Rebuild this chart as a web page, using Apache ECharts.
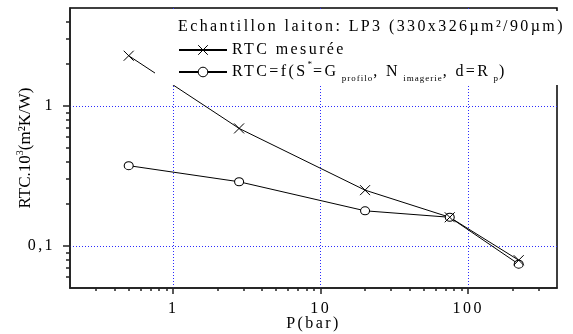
<!DOCTYPE html>
<html>
<head>
<meta charset="utf-8">
<script src="https://cdn.jsdelivr.net/npm/echarts@6/dist/echarts.min.js"></script>
<style>
  html, body { margin: 0; padding: 0; background: #fff; }
  #chart { width: 573px; height: 334px; }
</style>
</head>
<body>
<div id="chart"></div>
<script>
// Pressure (bar) and contact thermal resistance RTC.10^3 (m²K/W)
const pressure = [0.5, 2.8, 20, 75, 220];
const rtcMeasured = [2.28, 0.69, 0.25, 0.16, 0.079];
const rtcModel = [0.374, 0.287, 0.178, 0.16, 0.074];

// Axis ticks
const xMajorTicks = [1, 10, 100];
const xTickLabels = ['1', '10', '100'];
const xMinorTicks = [0.3, 0.4, 0.5, 0.6, 0.7, 0.8, 0.9, 2, 3, 4, 5, 6, 7, 8, 9,
                     20, 30, 40, 50, 60, 70, 80, 90, 200, 300];
const yMajorTicks = [0.1, 1];
const yTickLabels = ['0,1', '1'];
const yMinorTicks = [0.06, 0.07, 0.08, 0.09, 0.2, 0.3, 0.4, 0.5, 0.6, 0.7, 0.8, 0.9, 2, 3, 4];

// Legend texts
const titleText = 'Echantillon laiton: LP3 (330x326µm²/90µm)';
const nameMeasured = 'RTC mesurée';
const nameModel = 'RTC=f(S*=G profilo, N imagerie, d=R p)';
const legendRich = {};
legendRich[nameMeasured] = 'RTC mesurée';
legendRich[nameModel] = 'RTC=f(S{sup|*}=G{sub| profilo}, N{sub| imagerie}, d=R{sub| p})';

const SERIF = "'Liberation Serif', 'Times New Roman', serif";

// Spaced lettering for the serif labels; the y-axis title (17px / 10px) keeps normal spacing
function spacingFor(font) {
  if (/\b(17|10)px/.test(font)) return '0px';
  if (/\b9px/.test(font)) return '1px';
  return '2.4px';
}
const measureCtx = document.createElement('canvas').getContext('2d');
echarts.setPlatformAPI({
  measureText(text, font) {
    measureCtx.font = font;
    measureCtx.letterSpacing = spacingFor(font);
    return measureCtx.measureText(text);
  }
});
const baseFillText = CanvasRenderingContext2D.prototype.fillText;
CanvasRenderingContext2D.prototype.fillText = function (text, x, y, maxWidth) {
  this.letterSpacing = spacingFor(this.font);
  return maxWidth === undefined
    ? baseFillText.call(this, text, x, y)
    : baseFillText.call(this, text, x, y, maxWidth);
};

function labelFor(values, labels) {
  return function (v) {
    const i = values.findIndex(t => Math.abs(t - v) / t < 1e-6);
    return i < 0 ? '' : labels[i];
  };
}

const chart = echarts.init(document.getElementById('chart'), null, { renderer: 'canvas' });

const axisLine = { show: true, lineStyle: { color: '#222', width: 1.5 } };
const gridLine = { show: true, lineStyle: { color: '#2b2bff', type: [1, 2], width: 1 } };
const tickFont = { fontFamily: SERIF, fontSize: 16, color: '#000' };

chart.setOption({
  animation: false,
  backgroundColor: '#fff',
  grid: {
    left: 70, right: 16, top: 8, bottom: 46,
    outerBoundsMode: 'none', containLabel: false,
    show: true, borderColor: '#000', borderWidth: 1.5, backgroundColor: 'transparent'
  },
  xAxis: [
    {
      type: 'log', logBase: 10, min: 0.2, max: 400, position: 'bottom',
      axisLine: axisLine,
      axisTick: { show: true, customValues: xMajorTicks, length: 6, lineStyle: { color: '#222', width: 1.5 } },
      axisLabel: { customValues: xMajorTicks, formatter: labelFor(xMajorTicks, xTickLabels), margin: 12, ...tickFont },
      splitLine: gridLine,
      minorTick: { show: false },
      name: 'P(bar)', nameLocation: 'middle', nameGap: 27, nameMoveOverlap: false,
      nameTextStyle: { fontFamily: SERIF, fontSize: 16, color: '#000' }
    },
    {
      type: 'log', logBase: 10, min: 0.2, max: 400, position: 'bottom',
      axisLine: { show: false },
      axisTick: { show: true, customValues: xMinorTicks, length: 3, lineStyle: { color: '#222', width: 1.5 } },
      axisLabel: { show: false },
      splitLine: { show: false }
    }
  ],
  yAxis: [
    {
      type: 'log', logBase: 10, min: 0.05, max: 5, position: 'left',
      axisLine: axisLine,
      axisTick: { show: true, customValues: yMajorTicks, length: 7, lineStyle: { color: '#222', width: 1.5 } },
      axisLabel: { customValues: yMajorTicks, formatter: labelFor(yMajorTicks, yTickLabels), margin: 15, ...tickFont },
      splitLine: gridLine,
      name: 'RTC.10{sup|3}(m²K/W)', nameLocation: 'middle', nameGap: 33, nameRotate: 90, nameMoveOverlap: false,
      nameTextStyle: {
        fontFamily: SERIF, fontSize: 17, color: '#000', lineHeight: 22,
        rich: { sup: { fontFamily: SERIF, fontSize: 10, verticalAlign: 'top', lineHeight: 10, color: '#000' } }
      }
    },
    {
      type: 'log', logBase: 10, min: 0.05, max: 5, position: 'left',
      axisLine: { show: false },
      axisTick: { show: true, customValues: yMinorTicks, length: 4, lineStyle: { color: '#222', width: 1.5 } },
      axisLabel: { show: false },
      splitLine: { show: false }
    }
  ],
  legend: {
    orient: 'vertical', left: 173, top: 33,
    itemWidth: 48, itemHeight: 12, itemGap: -2,
    data: [nameMeasured, nameModel],
    formatter: name => legendRich[name],
    itemStyle: { borderWidth: 1 },
    textStyle: {
      fontFamily: SERIF, fontSize: 16, color: '#000', lineHeight: 24,
      rich: {
        sub: { fontFamily: SERIF, fontSize: 9, verticalAlign: 'bottom', lineHeight: 9, color: '#000' },
        sup: { fontFamily: SERIF, fontSize: 9, verticalAlign: 'top', lineHeight: 9, color: '#000' }
      }
    },
    z: 5
  },
  graphic: [
    { type: 'rect', z: 3, shape: { x: 155, y: 11, width: 410, height: 74 }, style: { fill: '#fff' } },
    {
      type: 'text', z: 6, left: 178, top: 18,
      style: { text: titleText, fontFamily: SERIF, fontSize: 16, fill: '#000' }
    }
  ],
  series: [
    {
      name: nameModel, type: 'line', xAxisIndex: 0, yAxisIndex: 0,
      data: pressure.map((p, i) => [p, rtcModel[i]]),
      symbol: 'circle', symbolSize: [9, 8],
      itemStyle: { color: '#fff', borderColor: '#000', borderWidth: 1 },
      lineStyle: { color: '#000', width: 1 },
      z: 2
    },
    {
      name: nameMeasured, type: 'line', xAxisIndex: 0, yAxisIndex: 0,
      data: pressure.map((p, i) => [p, rtcMeasured[i]]),
      symbol: 'path://M0,0L10,10M10,0L0,10', symbolSize: 10,
      itemStyle: { color: '#000', borderColor: '#000', borderWidth: 1 },
      lineStyle: { color: '#000', width: 1 },
      z: 2
    }
  ]
});
</script>
</body>
</html>
